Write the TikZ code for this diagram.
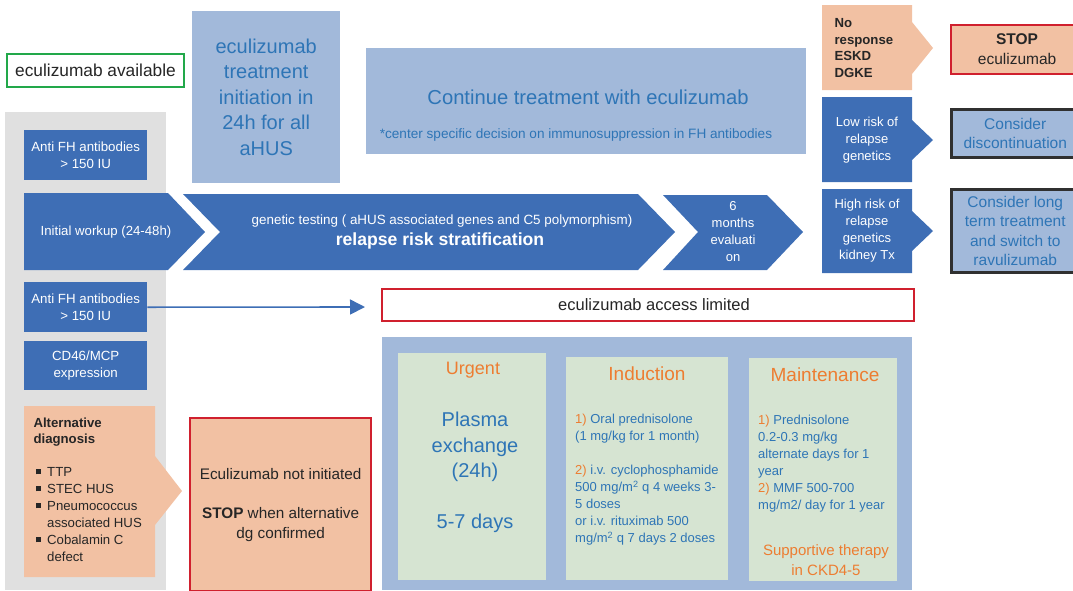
\documentclass[tikz,border=0pt]{standalone}
\usepackage{fontspec}
\setmainfont{Liberation Sans}
\usetikzlibrary{arrows.meta,positioning}
\definecolor{dkblue}{RGB}{62,110,181}
\definecolor{ltblue}{RGB}{162,185,218}
\definecolor{txtblue}{RGB}{46,117,182}
\definecolor{salmon}{RGB}{242,193,163}
\definecolor{stopred}{RGB}{208,32,46}
\definecolor{okgreen}{RGB}{34,168,74}
\definecolor{panelgrey}{RGB}{224,224,224}
\definecolor{palegreen}{RGB}{214,228,210}
\definecolor{orangetxt}{RGB}{237,125,49}
\definecolor{darkline}{RGB}{48,48,48}
\newcommand{\fs}[2]{\fontsize{#1}{#2}\selectfont}
\newcommand{\on}[1]{{\color{orangetxt}#1}}
\newcommand{\sqbul}{\raisebox{2.5pt}{\rule{5pt}{5pt}}}

\begin{document}
\begin{tikzpicture}[x=1pt, y=-1pt, >=Latex,
  box/.style={anchor=north west, inner sep=0pt, align=center},
  darkbox/.style={box, fill=dkblue, text=white, font=\fs{13.3}{17}},
  stopbox/.style={box, fill=salmon, draw=stopred, line width=2.2pt, text=black!85},
  considerbox/.style={box, fill=ltblue, draw=darkline, line width=2.5pt, text=txtblue, font=\fs{15.5}{19.5}},
  greenbox/.style={fill=palegreen},
  btext/.style={text=txtblue, align=left, inner sep=0pt, font=\fs{13}{17}},
  head/.style={text=orangetxt, font=\fs{19}{23}}]
\useasboundingbox (0,0) rectangle (1073,590);

% left grey column
\fill[panelgrey] (5,112) rectangle (166,590);

\node[box, fill=white, draw=okgreen, line width=2pt, minimum width=177pt, minimum height=33pt,
  text=black!85, font=\fs{17.3}{20}] (avail) at (6,53) {eculizumab available};
\node[box, fill=ltblue, text=txtblue, minimum width=148pt, minimum height=172pt,
  font=\fs{20}{25.5}] (init) at (192,11) {eculizumab\\treatment\\initiation in\\24h for all\\aHUS};

% continue treatment
\node[box, fill=ltblue, minimum width=440pt, minimum height=106pt] (cont) at (366,48) {};
\node[text=txtblue, font=\fs{20.2}{24}] (contmain) at (588,97) {Continue treatment with eculizumab};
\node[text=txtblue, font=\fs{13.6}{16}] (contnote) at (576,135) {*center specific decision on immunosuppression in FH antibodies};

\node[darkbox, minimum width=123pt, minimum height=50pt] (antiA) at (24,130) {Anti FH antibodies\\> 150 IU};

% chevron row
\fill[dkblue] (24,193) -- (168,193) -- (205,232) -- (168,270) -- (24,270) -- cycle;
\fill[dkblue] (183,194) -- (638,194) -- (675,232) -- (638,270) -- (183,270) -- (220,232) -- cycle;
\fill[dkblue] (663,195) -- (767,195) -- (803,232) -- (767,270) -- (663,270) -- (698,232) -- cycle;
\node[text=white, font=\fs{13.2}{17}] (workup) at (106,232) {Initial workup (24-48h)};
\node[text=white, font=\fs{13.4}{17}] (gentest) at (442,221) {genetic testing ( aHUS associated genes and C5 polymorphism)};
\node[text=white, font=\bfseries\fs{17.6}{20}] (relapse) at (440,241) {relapse risk stratification};
\node[text=white, align=center, font=\fs{13}{17}] (sixm) at (733,232) {6\\months\\evaluati\\on};

% right column
\fill[salmon] (822,5) -- (912,5) -- (912,22) -- (933,48) -- (912,74) -- (912,90) -- (822,90) -- cycle;
\fill[dkblue] (822,97) -- (912,97) -- (912,120) -- (933,140) -- (912,160) -- (912,182) -- (822,182) -- cycle;
\fill[dkblue] (822,189) -- (912,189) -- (912,211) -- (933,231) -- (912,251) -- (912,273) -- (822,273) -- cycle;
\node[anchor=west, align=left, text=black!85, font=\bfseries\fs{13.2}{16.5}] (noresp) at (831,48) {No\\response\\ESKD\\DGKE};
\node[text=white, align=center, font=\fs{13}{17}] (lowrisk) at (867,140) {Low risk of\\relapse\\genetics};
\node[text=white, align=center, font=\fs{13}{17}] (highrisk) at (867,231) {High risk of\\relapse\\genetics\\kidney Tx};

\node[stopbox, minimum width=132pt, minimum height=49pt, font=\fs{15.5}{20}] (stopecu) at (950,24) {\textbf{STOP}\\eculizumab};
\node[considerbox, minimum width=128pt, minimum height=48pt] (discont) at (950,108) {Consider\\discontinuation};
\node[considerbox, minimum width=128pt, minimum height=83pt] (longterm) at (950,188) {Consider long\\term treatment\\and switch to\\ravulizumab};

% limited access
\node[darkbox, minimum width=123pt, minimum height=50pt] (antiB) at (24,282) {Anti FH antibodies\\> 150 IU};
\node[darkbox, minimum width=123pt, minimum height=49pt] (cd46) at (24,341) {CD46/MCP\\expression};
\node[box, fill=white, draw=stopred, line width=2pt, minimum width=532pt, minimum height=32pt,
  text=black!85, font=\fs{16.5}{20}] (access) at (381,288) {\hspace{12pt}eculizumab access limited};
\coordinate (arrend) at (365,307);
\draw[->, dkblue, line width=1.6pt, >={Triangle[length=15pt,width=15pt]}] (antiB.east) -- (arrend);

% therapy panel
\fill[ltblue] (382,337) rectangle (912,590);
\fill[greenbox] (398,353) rectangle (546,580);
\fill[greenbox] (566,357) rectangle (728,580);
\fill[greenbox] (749,358) rectangle (897,581);

\node[head, font=\fs{18}{22}] (urgent) at (473,370) {Urgent};
\node[text=txtblue, align=center, font=\fs{20}{25.5}] (plasma) at (475,447) {Plasma\\exchange\\(24h)};
\node[text=txtblue, font=\fs{20}{24}] (days) at (475,523) {5-7 days};

\node[head] (induct) at (647,374) {Induction};
\node[btext, anchor=west] (inducttx) at (575,480) {\on{1)} Oral prednisolone\\(1 mg/kg for 1 month)\\[17pt]
  \on{2)} i.v. cyclophosphamide\\500 mg/m\textsuperscript{2} q 4 weeks 3-\\5 doses\\or i.v. rituximab 500\\mg/m\textsuperscript{2} q 7 days 2 doses};

\node[head] (maint) at (825,375) {Maintenance};
\node[btext, anchor=west] (mainttx) at (758,463.5) {\on{1)} Prednisolone\\0.2-0.3 mg/kg\\alternate days for 1\\year\\
  \on{2)} MMF 500-700\\mg/m2/ day for 1 year};
\node[text=orangetxt, align=center, font=\fs{15}{19.5}] (support) at (826,560) {Supportive therapy\\in CKD4-5};

% alternative diagnosis
\fill[salmon] (24,406) -- (155,406) -- (155,456) -- (182,491) -- (155,525) -- (155,577) -- (24,577) -- cycle;
\node[anchor=west, align=left, text=black!85, font=\bfseries\fs{13.2}{16.5}] (altdg) at (30,432) {Alternative\\diagnosis};
\node[anchor=west, text=black!85, font=\fs{13.2}{17}, inner sep=0pt] (altlist) at (36,516) {%
  \begin{tabular}{@{}l@{\hspace{6pt}}l@{}}
  \sqbul & TTP\\
  \sqbul & STEC HUS\\
  \sqbul & Pneumococcus\\
         & associated HUS\\
  \sqbul & Cobalamin C\\
         & defect
  \end{tabular}};
\node[stopbox, minimum width=181pt, minimum height=173pt, font=\fs{15.3}{19.5}] (notinit) at (189,417)
  {Eculizumab not initiated\\[20pt]\textbf{STOP} when alternative\\dg confirmed};
\end{tikzpicture}
\end{document}
